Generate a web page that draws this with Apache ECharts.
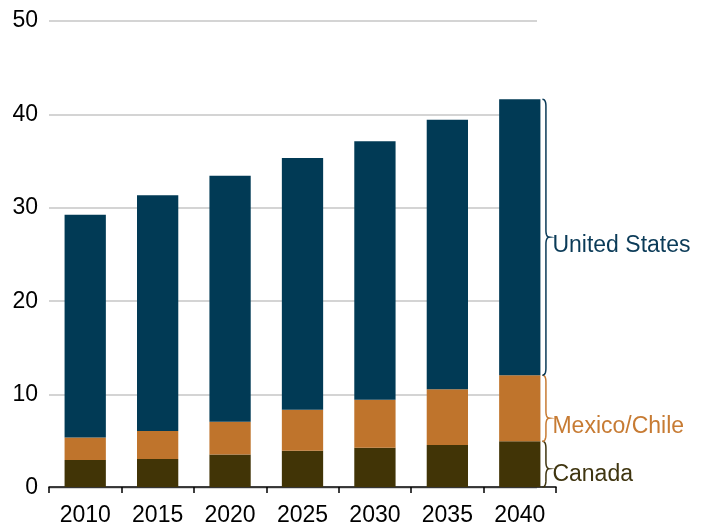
<!DOCTYPE html>
<html>
<head>
<meta charset="utf-8">
<script src="https://cdn.jsdelivr.net/npm/echarts@6/dist/echarts.min.js"></script>
<style>
	html, body { margin: 0; padding: 0; background: #fff; }
	#main { width: 709px; height: 527px; }
</style>
</head>
<body>
<div id="main"></div>
<script>
const years = ['2010', '2015', '2020', '2025', '2030', '2035', '2040'];
const canada = [2.9, 3.0, 3.5, 3.9, 4.2, 4.5, 4.9];
const mexicoChile = [2.4, 3.0, 3.5, 4.4, 5.15, 6.0, 7.1];
const unitedStates = [23.9, 25.3, 26.4, 27.0, 27.75, 28.9, 29.6];
const yTicks = [0, 10, 20, 30, 40, 50];

const FONT = "'Liberation Sans', Arial, sans-serif";
const FS = 23;
const colors = { us: '#013a55', mx: '#bf742c', ca: '#413406' };
const BAR_RATIO = 0.57;

// braces next to the last bar: [category, bottom, top]
const last = years.length - 1;
const braceRows = [
	[last, 0, canada[last]],
	[last, canada[last], canada[last] + mexicoChile[last]],
	[last, canada[last] + mexicoChile[last], canada[last] + mexicoChile[last] + unitedStates[last]]
];
const braceNames = ['Canada', 'Mexico/Chile', 'United States'];
const braceColors = ['#3f3510', '#c77b33', '#0b3b58'];
const braceTip = [0.4, 0.35, 0.5]; // where the point of the brace sits, 0 = bottom
const labelDy = [6, 8, 8];

function quad(p0, c, p1, pts) {
	for (let i = 1; i <= 8; i++) {
		let t = i / 8;
		pts.push([
			(1 - t) * (1 - t) * p0[0] + 2 * (1 - t) * t * c[0] + t * t * p1[0],
			(1 - t) * (1 - t) * p0[1] + 2 * (1 - t) * t * c[1] + t * t * p1[1]
		]);
	}
}

function braceItem(params, api) {
	let i = params.dataIndex;
	let bot = api.coord([api.value(0), api.value(1)]);
	let top = api.coord([api.value(0), api.value(2)]);
	let band = api.size([1, 0])[0];
	let x0 = bot[0] + band * BAR_RATIO / 2 + 2;
	let yT = top[1], yB = bot[1];
	let tip = yB - (yB - yT) * braceTip[i];
	let w = 7, xm = x0 + w / 2;
	let r = Math.min(7, (yB - yT) / 4);
	let pts = [[x0, yT]];
	quad([x0, yT], [xm, yT], [xm, yT + r], pts);
	pts.push([xm, tip - r]);
	quad([xm, tip - r], [xm, tip], [x0 + w, tip], pts);
	quad([x0 + w, tip], [xm, tip], [xm, tip + r], pts);
	pts.push([xm, yB - r]);
	quad([xm, yB - r], [xm, yB], [x0, yB], pts);
	return {
		type: 'group',
		children: [{
			type: 'polyline',
			shape: { points: pts },
			style: { stroke: braceColors[i], lineWidth: 1.5, fill: null }
		}, {
			type: 'text',
			style: {
				text: braceNames[i],
				x: x0 + 10,
				y: tip + labelDy[i],
				fill: braceColors[i],
				font: FS + 'px ' + FONT,
				verticalAlign: 'middle',
				align: 'left'
			}
		}]
	};
}

let chart = echarts.init(document.getElementById('main'));
let option = {
	animation: false,
	backgroundColor: '#fff',
	grid: [
		{ left: 49, right: 153, top: 21, bottom: 39 },
		{ left: 49, right: 172, top: 21, bottom: 39 }
	],
	xAxis: [{
		type: 'category',
		gridIndex: 0,
		data: years,
		axisLine: { lineStyle: { color: '#000', width: 1.5 } },
		axisTick: { show: true, length: 6, lineStyle: { color: '#000', width: 1.5 } },
		axisLabel: { color: '#000', fontSize: FS, fontFamily: FONT, margin: 17 }
	}, {
		type: 'category',
		gridIndex: 1,
		data: years,
		show: false
	}],
	yAxis: [{
		type: 'value',
		gridIndex: 0,
		min: 0, max: 50, interval: 10,
		show: false,
		splitLine: { show: false }
	}, {
		type: 'value',
		gridIndex: 1,
		min: yTicks[0], max: yTicks[yTicks.length - 1], interval: 10,
		axisLine: { show: false },
		axisTick: { show: false },
		axisLabel: { color: '#000', fontSize: FS, fontFamily: FONT, margin: 11, padding: [4, 0, 0, 0] },
		splitLine: { lineStyle: { color: '#c6c6c6', width: 1.5 } }
	}],
	series: [{
		name: 'Canada', type: 'bar', stack: 'all', data: canada,
		barWidth: (BAR_RATIO * 100) + '%', itemStyle: { color: colors.ca }
	}, {
		name: 'Mexico/Chile', type: 'bar', stack: 'all', data: mexicoChile,
		barWidth: (BAR_RATIO * 100) + '%', itemStyle: { color: colors.mx }
	}, {
		name: 'United States', type: 'bar', stack: 'all', data: unitedStates,
		barWidth: (BAR_RATIO * 100) + '%', itemStyle: { color: colors.us }
	}, {
		type: 'custom',
		clip: false,
		z: 5,
		renderItem: braceItem,
		data: braceRows
	}]
};
chart.setOption(option);
</script>
</body>
</html>
